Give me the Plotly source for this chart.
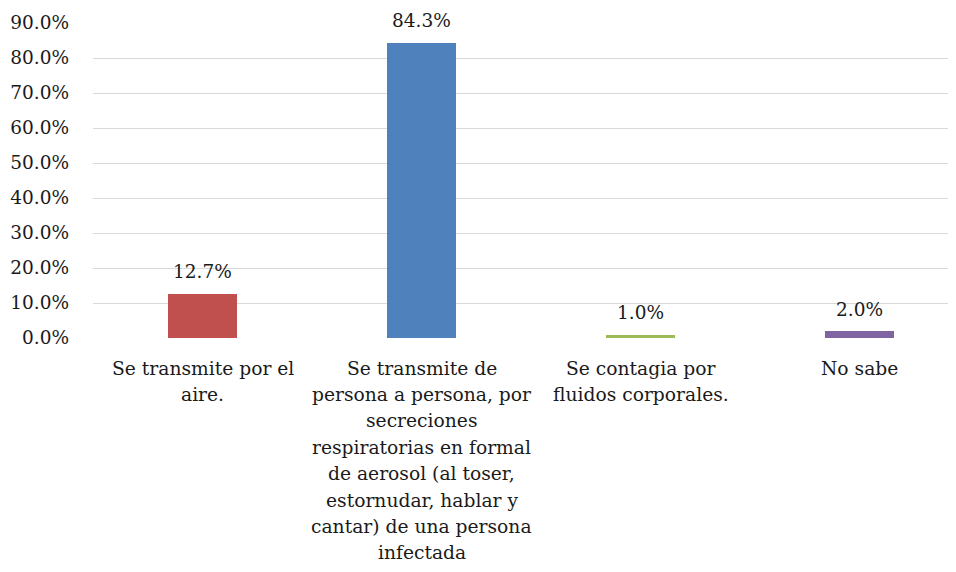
import plotly.graph_objects as go

categories = [
    "Se transmite por el<br>aire.",
    "Se transmite de<br>persona a persona, por<br>secreciones<br>respiratorias en formal<br>de aerosol (al toser,<br>estornudar, hablar y<br>cantar) de una persona<br>infectada",
    "Se contagia por<br>fluidos corporales.",
    "No sabe",
]
values = [12.7, 84.3, 1.0, 2.0]
colors = ["#C0504D", "#4F81BD", "#9BBB59", "#8064A2"]
tick_vals = [0, 10, 20, 30, 40, 50, 60, 70, 80, 90]
tick_text = [f"{v:.1f}%" for v in tick_vals]

FONT = "DejaVu Serif"
TXT = "#1a1a1a"

xs = list(range(len(categories)))
fig = go.Figure()
fig.add_trace(go.Bar(
    x=xs, y=values, marker=dict(color=colors, line=dict(width=0)),
    width=0.315, hoverinfo="skip", showlegend=False,
))

annotations = []
for x, v in zip(xs, values):
    annotations.append(dict(
        x=x, y=v, xref="x", yref="y", text=f"{v:.1f}%", showarrow=False,
        yanchor="middle", xanchor="center", yshift=22,
        font=dict(family=FONT, size=18.5, color=TXT),
    ))
for x, lab in zip(xs, categories):
    for i, line in enumerate(lab.split("<br>")):
        annotations.append(dict(
            x=x, y=0, xref="x", yref="paper", text=line, showarrow=False,
            yanchor="middle", xanchor="center", yshift=-(30.0 + 26.4 * i),
            font=dict(family=FONT, size=18.7, color=TXT),
        ))

fig.update_layout(
    width=948, height=564,
    margin=dict(l=85, r=0, t=15, b=234),
    paper_bgcolor="white", plot_bgcolor="white",
    font=dict(family=FONT, color=TXT),
    bargap=0,
    annotations=annotations,
    xaxis=dict(range=[-0.5, 3.44], showticklabels=False, showgrid=False,
               zeroline=False, showline=False, fixedrange=True),
    yaxis=dict(range=[0, 90], tickvals=tick_vals, ticktext=tick_text,
               showgrid=True, gridcolor="#d9d9d9", gridwidth=1,
               zeroline=False, showline=False, ticks="",
               ticklabelstandoff=23,
               tickfont=dict(family=FONT, size=18.5, color=TXT)),
)

fig.write_html("out.html")
